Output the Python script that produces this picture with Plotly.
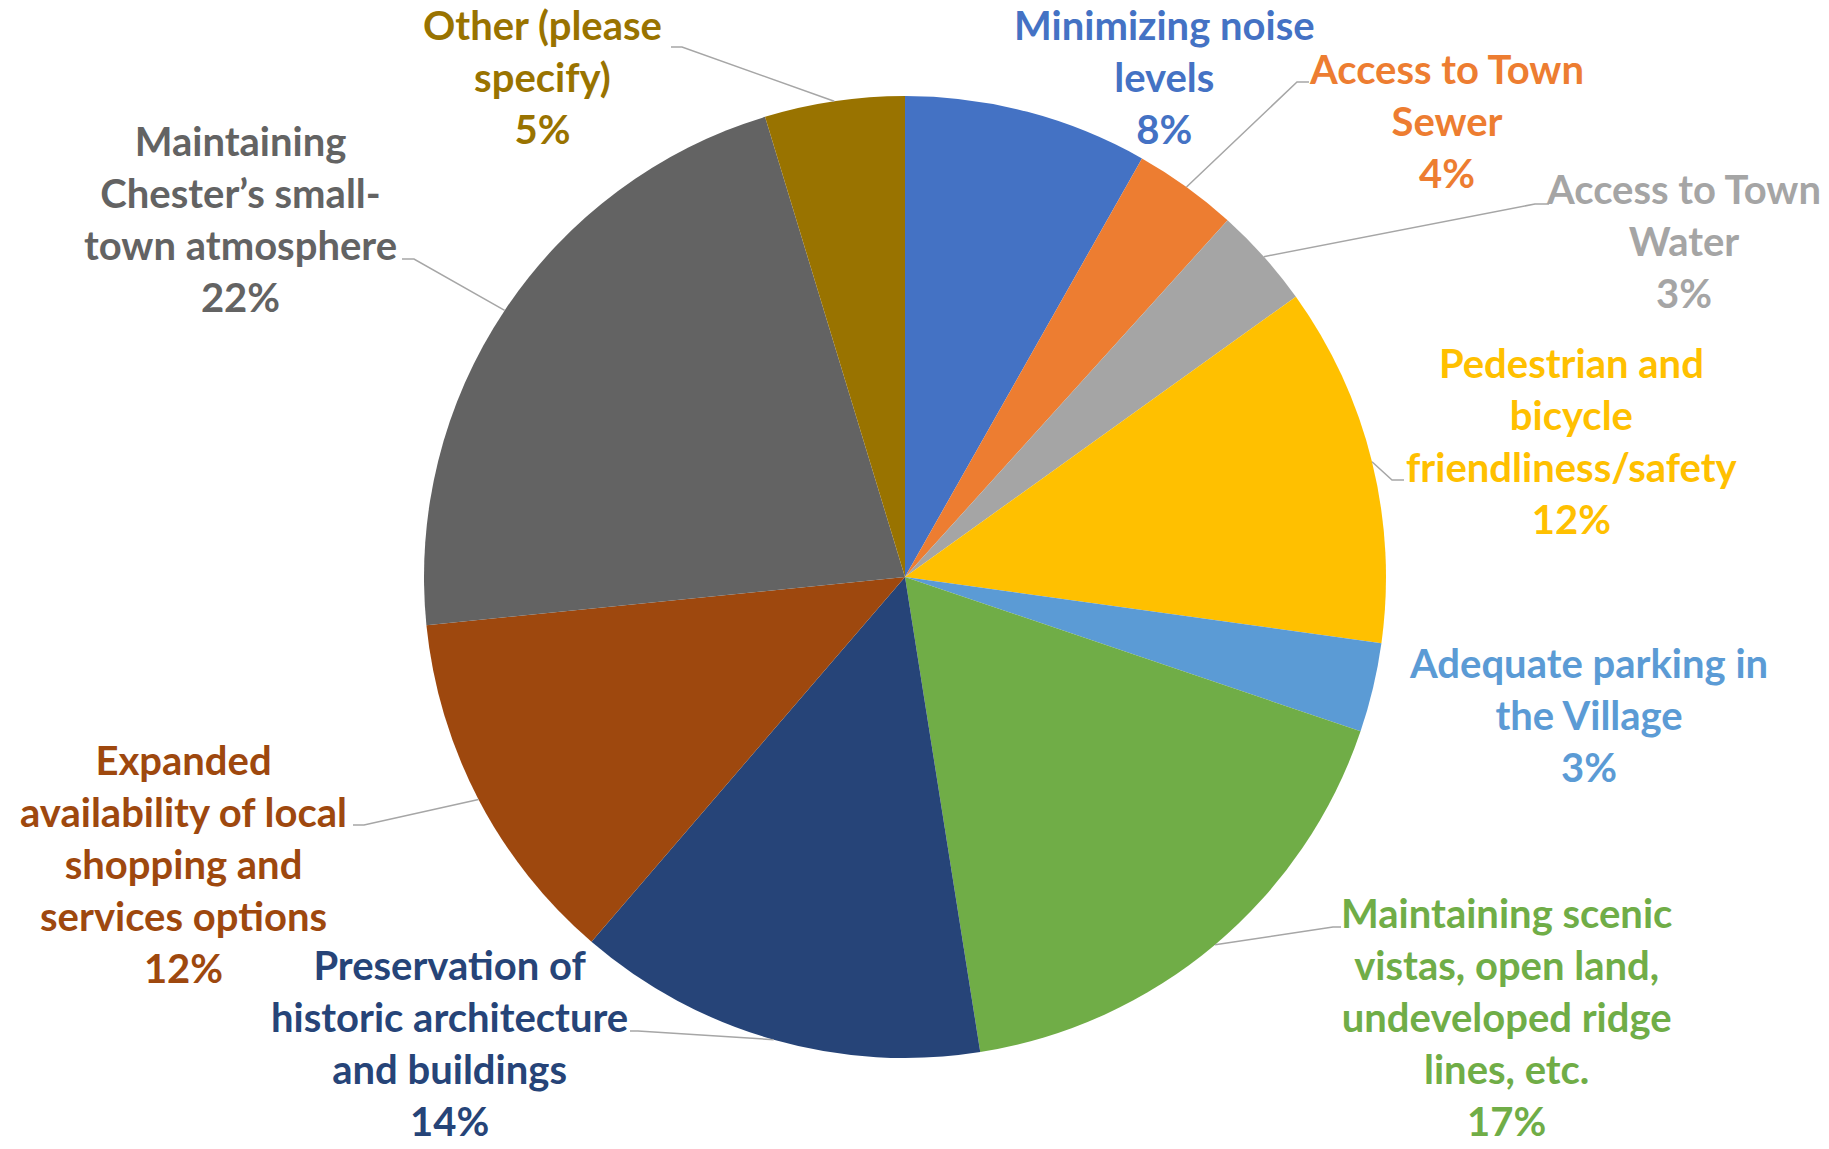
import math
import plotly.graph_objects as go

labels = [
    "Minimizing noise<br>levels",
    "Access to Town<br>Sewer",
    "Access to Town<br>Water",
    "Pedestrian and<br>bicycle<br>friendliness/safety",
    "Adequate parking in<br>the Village",
    "Maintaining scenic<br>vistas, open land,<br>undeveloped ridge<br>lines, etc.",
    "Preservation of<br>historic architecture<br>and buildings",
    "Expanded<br>availability of local<br>shopping and<br>services options",
    "Maintaining<br>Chester\u2019s small-<br>town atmosphere",
    "Other (please<br>specify)",
]
values = [8.2, 3.5, 3.4, 12.1, 3.0, 17.3, 13.8, 12.1, 21.9, 4.7]
colors = ["#4472C4", "#ED7D31", "#A5A5A5", "#FFC000", "#5B9BD5",
          "#70AD47", "#264478", "#9E480E", "#636363", "#997300"]

W, H = 1829, 1149
CX, CY, R = 905, 577, 481

# label block centres (pixels) and leader-line elbow points (pixels, None = no leader)
label_pos = [(1164, 77), (1446, 121), (1683, 241), (1572, 441), (1588, 715),
             (1506, 1017), (449, 1043), (183, 864), (240, 219), (542, 77)]
elbows = [None, ((1297, 82), (1309, 82)), ((1535, 204), (1549, 204)),
          ((1392, 480), (1404, 480)), None, ((1333, 927), (1341, 927)),
          ((638, 1031), (630, 1031)), ((364, 825), (353, 825)),
          ((414, 259), (402, 259)), ((682, 47), (671, 47))]
FONT = 40


def px(x):
    return x / W


def py(y):
    return 1 - y / H


fig = go.Figure(go.Pie(
    labels=labels, values=values, sort=False, direction="clockwise", rotation=0,
    marker=dict(colors=colors, line=dict(width=0)), textinfo="none",
    hoverinfo="label+percent", showlegend=False,
    domain=dict(x=[px(CX - R), px(CX + R)], y=[py(CY + R), py(CY - R)]),
))

total = sum(values)
cum = 0.0
shapes = []
annotations = []
for i, v in enumerate(values):
    mid = (cum + v / 2) / total * 2 * math.pi
    cum += v
    ex, ey = CX + R * math.sin(mid), CY - R * math.cos(mid)
    pct = round(v / total * 100)
    lx, ly = label_pos[i]
    annotations.append(dict(
        x=px(lx), y=py(ly), xref="paper", yref="paper", xanchor="center", yanchor="middle",
        text=f"{labels[i]}<br>{pct}%", showarrow=False, align="center",
        font=dict(family="Lato", size=FONT, color=colors[i], weight="bold"),
    ))
    if elbows[i]:
        (ax, ay), (bx, by) = elbows[i]
        shapes.append(dict(type="path", xref="paper", yref="paper",
                           path=f"M{px(ex)},{py(ey)} L{px(ax)},{py(ay)} L{px(bx)},{py(by)}",
                           line=dict(color="#A6A6A6", width=1.5)))

fig.update_layout(width=W, height=H, margin=dict(l=0, r=0, t=0, b=0),
                  paper_bgcolor="white", plot_bgcolor="white",
                  shapes=shapes, annotations=annotations)
fig.write_html("out.html", config={"displayModeBar": False},
               post_script="document.body.style.margin='0px';document.body.style.overflow='hidden';")
